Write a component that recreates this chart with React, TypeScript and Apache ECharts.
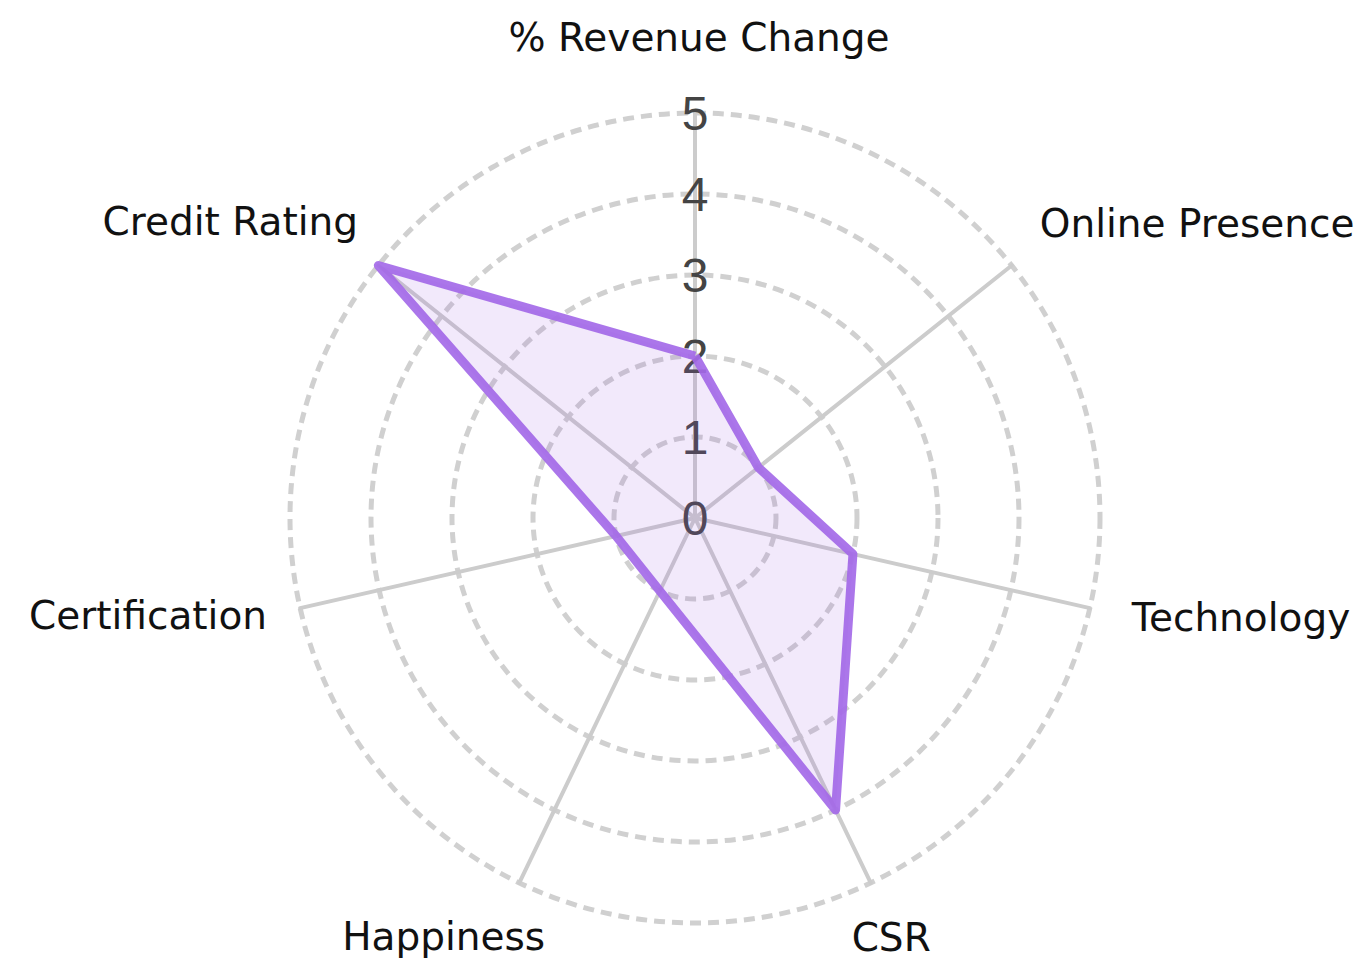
import React, { useEffect, useRef } from "react";
import * as echarts from "echarts";

// Categories listed clockwise from the top, as in the picture
const categories = [
  "% Revenue Change",
  "Online Presence",
  "Technology",
  "CSR",
  "Happiness",
  "Certification",
  "Credit Rating",
];
const values = [2, 1, 2, 4, 1, 1, 5];
const axisMin = 0;
const axisMax = 5;
const splitCount = 5;

// Label placement (style only)
const namePlacement: Record<string, any> = {
  "% Revenue Change": { gap: 76, align: "center", verticalAlign: "middle", padding: [0, 0, 0, 8] },
  "Online Presence": { gap: 36, align: "left", verticalAlign: "bottom", padding: 0 },
  "Technology": { gap: 43, align: "left", verticalAlign: "middle", padding: [6, 0, 0, 0] },
  "CSR": { gap: 61, align: "center", verticalAlign: "middle", padding: [0, 12, 0, 0] },
  "Happiness": { gap: 59, align: "center", verticalAlign: "middle", padding: [0, 100, 0, 0] },
  "Certification": { gap: 34, align: "right", verticalAlign: "middle", padding: [6, 0, 0, 0] },
  "Credit Rating": { gap: 26, align: "right", verticalAlign: "bottom", padding: [0, 0, 8, 0] },
};

export default function App() {
  const ref = useRef<HTMLDivElement>(null);

  useEffect(() => {
    if (!ref.current) return;
    const chart = echarts.init(ref.current, undefined, { renderer: "svg" });

    // ECharts lays indicators counter-clockwise; reorder so the picture reads clockwise
    const order = [0, ...Array.from({ length: categories.length - 1 }, (_, i) => categories.length - 1 - i)];
    const indicator = order.map((idx, k) => {
      const name = categories[idx];
      const p = namePlacement[name];
      const ind: any = {
        name,
        min: axisMin,
        max: axisMax,
        nameGap: p.gap,
        nameTextStyle: {
          align: p.align,
          verticalAlign: p.verticalAlign,
          padding: p.padding,
        },
      };
      if (k === 0) ind.axisLabel = { show: true };
      return ind;
    });
    const data = order.map((idx) => values[idx]);

    chart.setOption({
      animation: false,
      backgroundColor: "#ffffff",
      radar: {
        center: [695, 518],
        radius: 405,
        startAngle: 90,
        splitNumber: splitCount,
        shape: "circle",
        indicator,
        axisName: {
          color: "#111111",
          fontFamily: "'DejaVu Sans', sans-serif",
          fontSize: 39,
          lineHeight: 40,
        },
        axisLine: { show: true, lineStyle: { color: "#cccccc", width: 4 } },
        axisTick: { show: false },
        axisLabel: {
          show: false,
          color: "#444444",
          fontSize: 48,
          fontFamily: "'Liberation Sans', Arial, sans-serif",
          margin: 0,
          align: "center",
          verticalAlign: "middle",
        },
        splitLine: {
          show: true,
          lineStyle: { color: "#d0d0d0", width: 5, type: [11, 7] },
        },
        splitArea: { show: false },
      },
      series: [
        {
          type: "radar",
          symbol: "none",
          lineStyle: { color: "#a46ae8", width: 9, opacity: 0.92 },
          areaStyle: { color: "rgba(160, 100, 230, 0.2)" },
          data: [{ value: data, name: "Score" }],
        },
      ],
    });

    return () => chart.dispose();
  }, []);

  return (
    <div
      ref={ref}
      style={{ position: "fixed", left: 0, top: 0, width: 1363, height: 970 }}
    />
  );
}
